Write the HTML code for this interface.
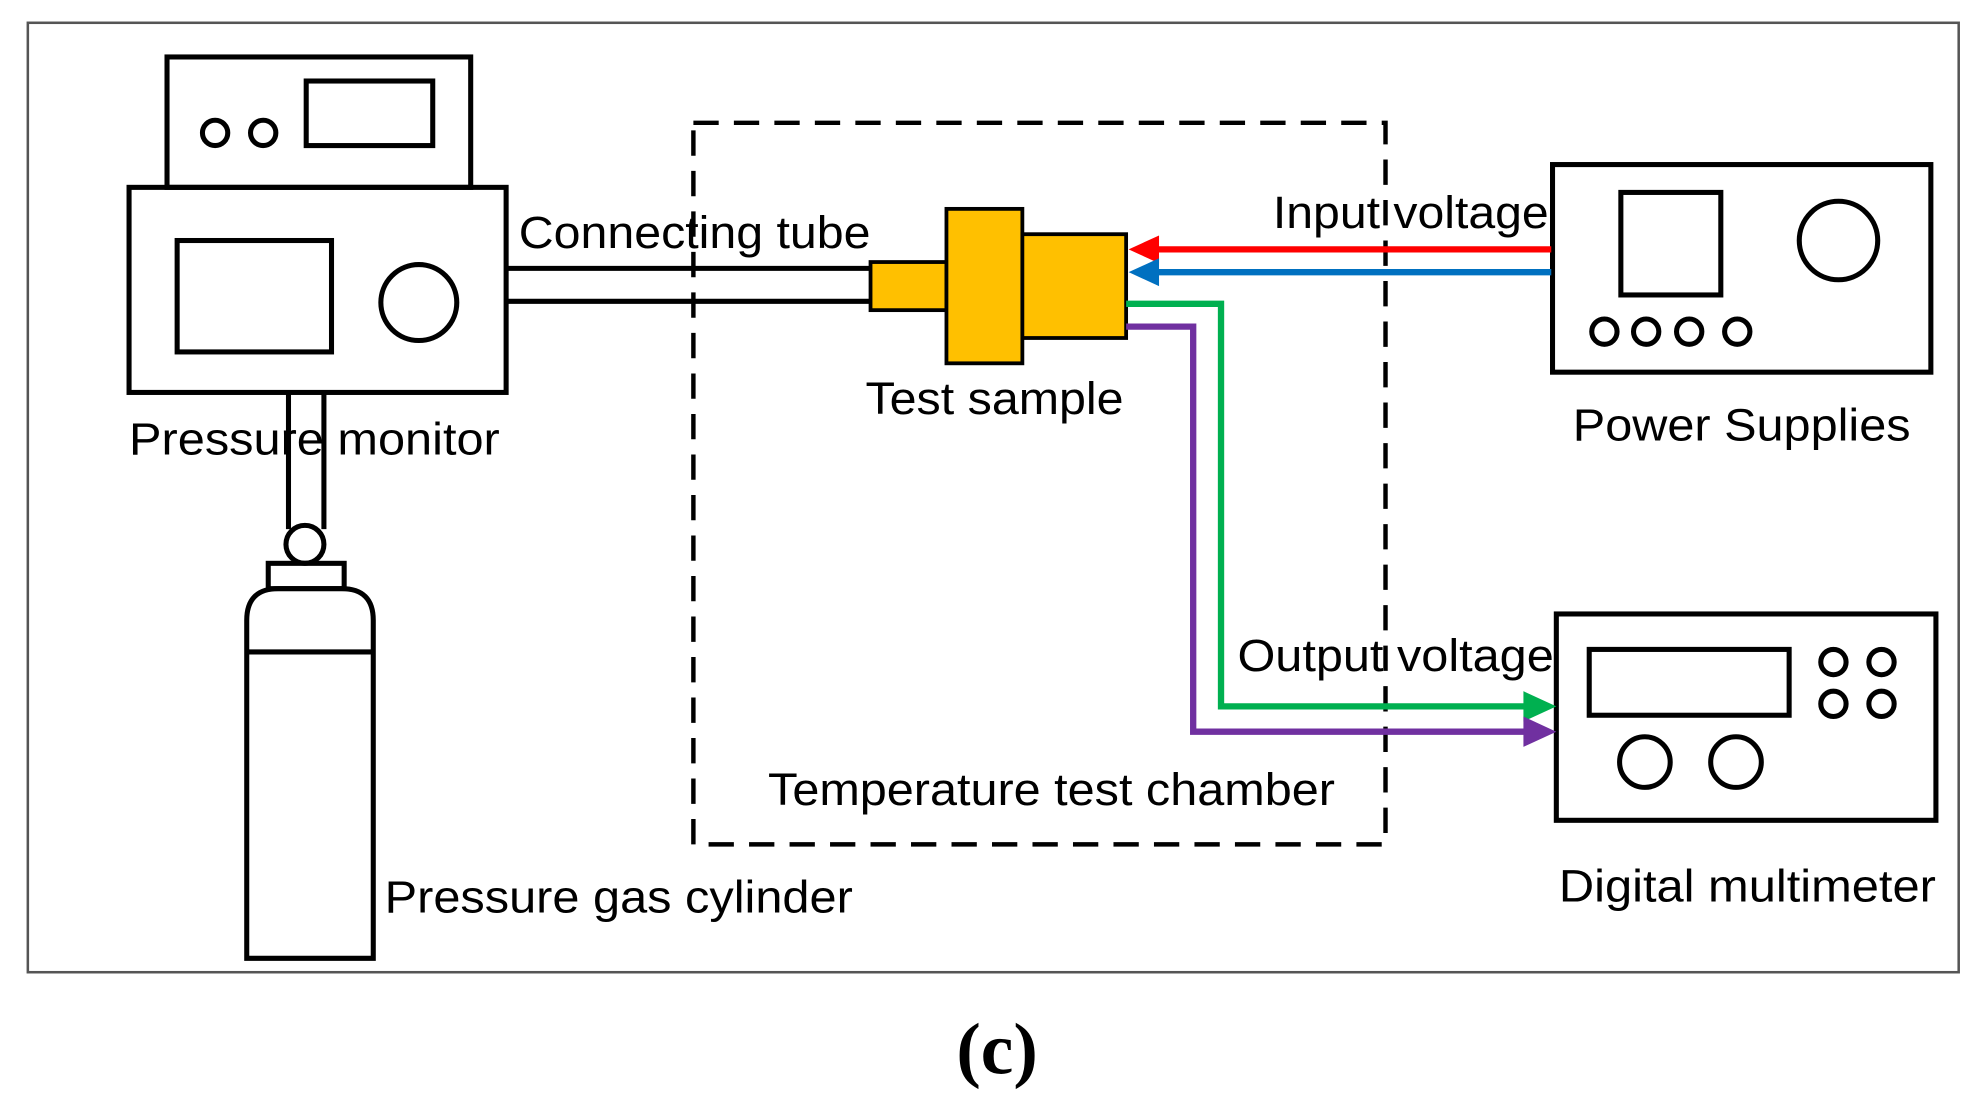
<!DOCTYPE html>
<html><head><style>html,body{margin:0;padding:0;background:#fff}svg{display:block}</style></head>
<body>
<svg width="1984" height="1114" viewBox="0 0 1568 880" preserveAspectRatio="none" xmlns="http://www.w3.org/2000/svg">
<rect x="22" y="18" width="1526" height="750" fill="#fff" stroke="#555" stroke-width="2"/>
<g fill="none" stroke="#000" stroke-width="4">
<rect x="132" y="45" width="240" height="103"/>
<circle cx="170" cy="105" r="10"/><circle cx="208" cy="105" r="10"/>
<rect x="242" y="64" width="100" height="51"/>
<rect x="102" y="148" width="298" height="162"/>
<rect x="140" y="190" width="122" height="88"/>
<circle cx="331" cy="239" r="30"/>
<line x1="400" y1="212" x2="688" y2="212"/><line x1="400" y1="238" x2="688" y2="238"/>
<line x1="228" y1="310" x2="228" y2="418"/><line x1="256" y1="310" x2="256" y2="418"/>
<circle cx="241" cy="430" r="15" fill="#fff"/>
<rect x="212" y="445" width="60" height="20"/>
<path d="M195,757 L195,490 Q195,465 220,465 L270,465 Q295,465 295,490 L295,757 Z"/>
<line x1="195" y1="515" x2="295" y2="515"/>
<rect x="548" y="97" width="547" height="570" stroke-dasharray="20,12" stroke-width="3.5"/>
<rect x="1227" y="130" width="299" height="164"/>
<rect x="1281" y="152" width="79" height="81"/>
<circle cx="1453" cy="190" r="31"/>
<circle cx="1268" cy="262" r="10"/><circle cx="1301" cy="262" r="10"/><circle cx="1335" cy="262" r="10"/><circle cx="1373" cy="262" r="10"/>
<rect x="1230" y="485" width="300" height="163"/>
<rect x="1256" y="513" width="158" height="52"/>
<circle cx="1449" cy="523" r="10"/><circle cx="1487" cy="523" r="10"/><circle cx="1449" cy="556" r="10"/><circle cx="1487" cy="556" r="10"/>
<circle cx="1300" cy="602" r="20"/><circle cx="1372" cy="602" r="20"/>
</g>
<g fill="#FFC000" stroke="#000" stroke-width="3">
<rect x="688" y="207" width="60" height="38"/>
<rect x="748" y="165" width="60" height="122"/>
<rect x="808" y="185" width="82" height="82"/>
</g>
<g fill="none" stroke-width="5">
<line x1="1226" y1="197" x2="910" y2="197" stroke="#FF0000"/>
<line x1="1226" y1="215" x2="910" y2="215" stroke="#0070C0"/>
<polyline points="890,240 965,240 965,558 1210,558" stroke="#00B050"/>
<polyline points="890,258 943,258 943,578 1210,578" stroke="#7030A0"/>
</g>
<polygon points="892,197 916,186 916,208" fill="#FF0000"/>
<polygon points="892,215 916,204 916,226" fill="#0070C0"/>
<polygon points="1230,558 1204,546 1204,570" fill="#00B050"/>
<polygon points="1230,578 1204,566 1204,590" fill="#7030A0"/>
<g font-family="Liberation Sans, sans-serif" font-size="36" fill="#000" lengthAdjust="spacingAndGlyphs">
<text x="410" y="196" textLength="278" lengthAdjust="spacingAndGlyphs">Connecting tube</text>
<text x="684" y="327" textLength="204" lengthAdjust="spacingAndGlyphs">Test sample</text>
<text x="102" y="359" textLength="293" lengthAdjust="spacingAndGlyphs">Pressure monitor</text>
<text x="1006" y="180" textLength="218" lengthAdjust="spacingAndGlyphs">Input voltage</text>
<text x="1243" y="348" textLength="267" lengthAdjust="spacingAndGlyphs">Power Supplies</text>
<text x="978" y="530" textLength="250" lengthAdjust="spacingAndGlyphs">Output voltage</text>
<text x="607" y="636" textLength="448" lengthAdjust="spacingAndGlyphs">Temperature test chamber</text>
<text x="304" y="721" textLength="370" lengthAdjust="spacingAndGlyphs">Pressure gas cylinder</text>
<text x="1232" y="712" textLength="298" lengthAdjust="spacingAndGlyphs">Digital multimeter</text>
</g>
<text x="788" y="848" text-anchor="middle" font-family="Liberation Serif, serif" font-weight="bold" font-size="58">(c)</text>
</svg>
</body></html>
